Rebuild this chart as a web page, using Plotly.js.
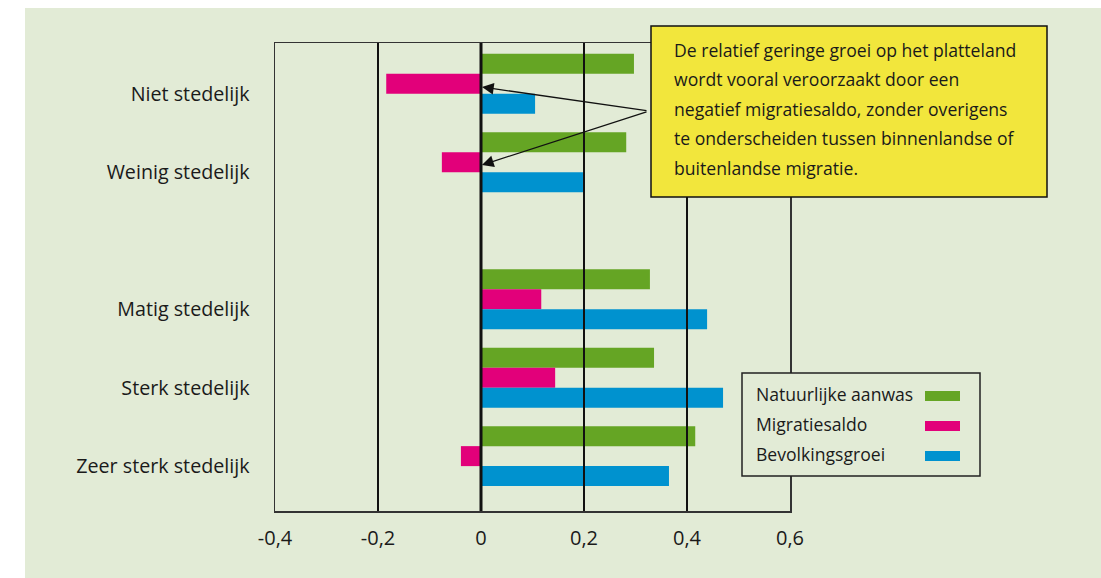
<!DOCTYPE html>
<html>
<head>
<meta charset="utf-8">
<script src="https://cdn.plot.ly/plotly-3.0.1.min.js"></script>
<style>
  html, body { margin: 0; padding: 0; background: #ffffff; }
  #chart { position: absolute; left: 25px; top: 8px; width: 1076px; height: 570px; }
</style>
</head>
<body>
<div id="chart"></div>
<script>
// ---- data ----
const categories = ['Niet stedelijk', 'Weinig stedelijk', 'Matig stedelijk', 'Sterk stedelijk', 'Zeer sterk stedelijk'];
const natuurlijkeAanwas = [0.297, 0.282, 0.328, 0.336, 0.416];
const migratiesaldo     = [-0.184, -0.076, 0.117, 0.144, -0.039];
const bevolkingsgroei   = [0.105, 0.198, 0.439, 0.470, 0.365];
const seriesNames = ['Natuurlijke aanwas', 'Migratiesaldo', 'Bevolkingsgroei'];
const xTickVals = [-0.4, -0.2, 0, 0.2, 0.4, 0.6];
const xTickText = ['-0,4', '-0,2', '0', '0,2', '0,4', '0,6'];
const noteLines = [
  'De relatief geringe groei op het platteland',
  'wordt vooral veroorzaakt door een',
  'negatief migratiesaldo, zonder overigens',
  'te onderscheiden tussen binnenlandse of',
  'buitenlandse migratie.'
];

// ---- layout / styling ----
const groupPos = [0, 1, 2.75, 3.75, 4.75];   // vertical slots (gap between 2nd and 3rd)
const colors = ['#65A524', '#E2007A', '#0092CF'];
const bg = '#E2EBD6';
const font = '"Open Sans", "Noto Sans", sans-serif';
const M = {l: 250, r: 311, t: 35, b: 67};
const W = 1076, H = 570;
const offX = 25, offY = 8;
const plotW = W - M.l - M.r, plotH = H - M.t - M.b;
const px = v => (v - offX - M.l) / plotW;          // window px -> paper x
const py = v => 1 - (v - offY - M.t) / plotH;      // window px -> paper y

const values = [natuurlijkeAanwas, migratiesaldo, bevolkingsgroei];
const traces = values.map((vals, i) => ({
  type: 'bar', orientation: 'h',
  x: vals, y: groupPos,
  name: seriesNames[i],
  marker: {color: colors[i], line: {width: 0}},
  hoverinfo: 'x+name'
}));

const shapes = [];
// gridlines above bars
xTickVals.forEach(v => {
  if (v === xTickVals[0] || v === xTickVals[xTickVals.length - 1]) return;
  shapes.push({type: 'line', xref: 'x', yref: 'paper', x0: v, x1: v, y0: 0, y1: 1,
    line: {color: '#111', width: v === 0 ? 3 : 2}, layer: 'above'});
});
// note box
shapes.push({type: 'rect', xref: 'paper', yref: 'paper',
  x0: px(651), x1: px(1047), y0: py(197), y1: py(26),
  fillcolor: '#F2E63C', line: {color: '#111', width: 1.5}, layer: 'above'});
// legend box
shapes.push({type: 'rect', xref: 'paper', yref: 'paper',
  x0: px(742), x1: px(980), y0: py(476), y1: py(373),
  fillcolor: bg, line: {color: '#222', width: 1.5}, layer: 'above'});
const legendY = [394, 424, 454];
seriesNames.forEach((n, i) => {
  shapes.push({type: 'rect', xref: 'paper', yref: 'paper',
    x0: px(925), x1: px(960), y0: py(legendY[i] + 7), y1: py(legendY[i] - 3),
    fillcolor: colors[i], line: {width: 0}, layer: 'above'});
});

const annotations = [];
noteLines.forEach((t, i) => {
  annotations.push({xref: 'paper', yref: 'paper', x: px(672), y: py(50 + i * 29.5),
    xanchor: 'left', yanchor: 'middle', text: t, showarrow: false,
    font: {family: font, size: 17.6, color: '#1a1a1a'}});
});
seriesNames.forEach((n, i) => {
  annotations.push({xref: 'paper', yref: 'paper', x: px(754), y: py(legendY[i]),
    xanchor: 'left', yanchor: 'middle', text: n, showarrow: false,
    font: {family: font, size: 17.6, color: '#1a1a1a'}});
});
// arrows pointing at the negative migration bars
[[0, 167, 24], [1, 167, -54]].forEach(([k, ax, ay]) => {
  annotations.push({xref: 'x', yref: 'y', x: 0, y: groupPos[k] + 0.04, text: '',
    showarrow: true, arrowhead: 2, arrowsize: 1.8, arrowwidth: 1.3, arrowcolor: '#111',
    ax: ax, ay: ay, standoff: 1});
});

const layout = {
  width: W, height: H,
  margin: M,
  paper_bgcolor: bg, plot_bgcolor: bg,
  barmode: 'group', bargap: 0.235, bargroupgap: 0,
  showlegend: false,
  font: {family: font, color: '#1a1a1a'},
  xaxis: {
    range: [-0.4, 0.6], tickvals: xTickVals, ticktext: xTickText,
    showgrid: false, zeroline: false,
    showline: true, mirror: true, linecolor: '#333', linewidth: 1.5,
    ticks: '', tickfont: {size: 20, family: font}, ticklabelstandoff: 8
  },
  yaxis: {
    range: [5.45, -0.52], tickvals: groupPos.map(p => p + 0.13), ticktext: categories,
    showgrid: false, zeroline: false,
    showline: true, mirror: true, linecolor: '#333', linewidth: 1.5,
    ticks: '', tickfont: {size: 19.7, family: font}, ticklabelstandoff: 20
  },
  shapes: shapes,
  annotations: annotations
};

Plotly.newPlot('chart', traces, layout, {displayModeBar: false, staticPlot: true});
</script>
</body>
</html>
